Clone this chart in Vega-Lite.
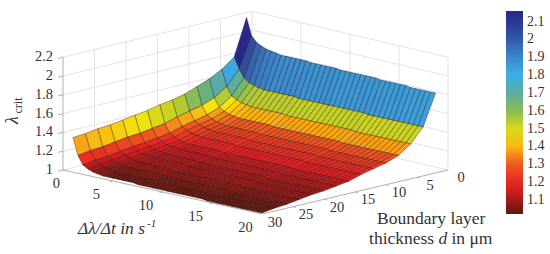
{"$schema":"https://vega.github.io/schema/vega-lite/v6.json","width":550,"height":254,"padding":0,"autosize":{"type":"none"},"background":"white","config":{"view":{"stroke":null}},
"datasets":{
"surface":[
{"r":1,"d":2,"z":2.21},{"r":1,"d":4,"z":1.82},{"r":1,"d":6,"z":1.72},{"r":1,"d":8,"z":1.65},{"r":1,"d":10,"z":1.6},{"r":1,"d":12,"z":1.55},{"r":1,"d":14,"z":1.52},{"r":1,"d":16,"z":1.5},{"r":1,"d":18,"z":1.47},{"r":1,"d":20,"z":1.45},{"r":1,"d":22,"z":1.43},{"r":1,"d":24,"z":1.41},{"r":1,"d":26,"z":1.4},{"r":1,"d":28,"z":1.38},{"r":1,"d":30,"z":1.37},
{"r":1.5,"d":2,"z":2.03},{"r":1.5,"d":4,"z":1.7},{"r":1.5,"d":6,"z":1.55},{"r":1.5,"d":8,"z":1.46},{"r":1.5,"d":10,"z":1.41},{"r":1.5,"d":12,"z":1.38},{"r":1.5,"d":14,"z":1.35},{"r":1.5,"d":16,"z":1.31},{"r":1.5,"d":18,"z":1.29},{"r":1.5,"d":20,"z":1.27},{"r":1.5,"d":22,"z":1.26},{"r":1.5,"d":24,"z":1.24},{"r":1.5,"d":26,"z":1.22},{"r":1.5,"d":28,"z":1.21},{"r":1.5,"d":30,"z":1.19},
{"r":2,"d":2,"z":1.97},{"r":2,"d":4,"z":1.62},{"r":2,"d":6,"z":1.46},{"r":2,"d":8,"z":1.37},{"r":2,"d":10,"z":1.32},{"r":2,"d":12,"z":1.29},{"r":2,"d":14,"z":1.26},{"r":2,"d":16,"z":1.22},{"r":2,"d":18,"z":1.2},{"r":2,"d":20,"z":1.18},{"r":2,"d":22,"z":1.17},{"r":2,"d":24,"z":1.15},{"r":2,"d":26,"z":1.13},{"r":2,"d":28,"z":1.12},{"r":2,"d":30,"z":1.1},
{"r":2.5,"d":2,"z":1.94},{"r":2.5,"d":4,"z":1.58},{"r":2.5,"d":6,"z":1.43},{"r":2.5,"d":8,"z":1.34},{"r":2.5,"d":10,"z":1.29},{"r":2.5,"d":12,"z":1.26},{"r":2.5,"d":14,"z":1.23},{"r":2.5,"d":16,"z":1.19},{"r":2.5,"d":18,"z":1.17},{"r":2.5,"d":20,"z":1.15},{"r":2.5,"d":22,"z":1.14},{"r":2.5,"d":24,"z":1.12},{"r":2.5,"d":26,"z":1.1},{"r":2.5,"d":28,"z":1.09},{"r":2.5,"d":30,"z":1.07},
{"r":3,"d":2,"z":1.92},{"r":3,"d":4,"z":1.56},{"r":3,"d":6,"z":1.41},{"r":3,"d":8,"z":1.32},{"r":3,"d":10,"z":1.27},{"r":3,"d":12,"z":1.24},{"r":3,"d":14,"z":1.21},{"r":3,"d":16,"z":1.17},{"r":3,"d":18,"z":1.15},{"r":3,"d":20,"z":1.13},{"r":3,"d":22,"z":1.12},{"r":3,"d":24,"z":1.1},{"r":3,"d":26,"z":1.08},{"r":3,"d":28,"z":1.07},{"r":3,"d":30,"z":1.05},
{"r":3.5,"d":2,"z":1.91},{"r":3.5,"d":4,"z":1.55},{"r":3.5,"d":6,"z":1.4},{"r":3.5,"d":8,"z":1.31},{"r":3.5,"d":10,"z":1.26},{"r":3.5,"d":12,"z":1.23},{"r":3.5,"d":14,"z":1.2},{"r":3.5,"d":16,"z":1.16},{"r":3.5,"d":18,"z":1.14},{"r":3.5,"d":20,"z":1.12},{"r":3.5,"d":22,"z":1.11},{"r":3.5,"d":24,"z":1.09},{"r":3.5,"d":26,"z":1.07},{"r":3.5,"d":28,"z":1.06},{"r":3.5,"d":30,"z":1.04},
{"r":4,"d":2,"z":1.9},{"r":4,"d":4,"z":1.54},{"r":4,"d":6,"z":1.39},{"r":4,"d":8,"z":1.3},{"r":4,"d":10,"z":1.25},{"r":4,"d":12,"z":1.22},{"r":4,"d":14,"z":1.19},{"r":4,"d":16,"z":1.15},{"r":4,"d":18,"z":1.13},{"r":4,"d":20,"z":1.11},{"r":4,"d":22,"z":1.1},{"r":4,"d":24,"z":1.08},{"r":4,"d":26,"z":1.06},{"r":4,"d":28,"z":1.05},{"r":4,"d":30,"z":1.03},
{"r":4.5,"d":2,"z":1.89},{"r":4.5,"d":4,"z":1.54},{"r":4.5,"d":6,"z":1.39},{"r":4.5,"d":8,"z":1.3},{"r":4.5,"d":10,"z":1.25},{"r":4.5,"d":12,"z":1.22},{"r":4.5,"d":14,"z":1.19},{"r":4.5,"d":16,"z":1.15},{"r":4.5,"d":18,"z":1.13},{"r":4.5,"d":20,"z":1.11},{"r":4.5,"d":22,"z":1.1},{"r":4.5,"d":24,"z":1.08},{"r":4.5,"d":26,"z":1.06},{"r":4.5,"d":28,"z":1.04},{"r":4.5,"d":30,"z":1.03},
{"r":5,"d":2,"z":1.89},{"r":5,"d":4,"z":1.54},{"r":5,"d":6,"z":1.39},{"r":5,"d":8,"z":1.3},{"r":5,"d":10,"z":1.25},{"r":5,"d":12,"z":1.22},{"r":5,"d":14,"z":1.19},{"r":5,"d":16,"z":1.15},{"r":5,"d":18,"z":1.13},{"r":5,"d":20,"z":1.11},{"r":5,"d":22,"z":1.1},{"r":5,"d":24,"z":1.08},{"r":5,"d":26,"z":1.06},{"r":5,"d":28,"z":1.04},{"r":5,"d":30,"z":1.03},
{"r":5.5,"d":2,"z":1.89},{"r":5.5,"d":4,"z":1.54},{"r":5.5,"d":6,"z":1.39},{"r":5.5,"d":8,"z":1.3},{"r":5.5,"d":10,"z":1.25},{"r":5.5,"d":12,"z":1.22},{"r":5.5,"d":14,"z":1.19},{"r":5.5,"d":16,"z":1.15},{"r":5.5,"d":18,"z":1.13},{"r":5.5,"d":20,"z":1.11},{"r":5.5,"d":22,"z":1.1},{"r":5.5,"d":24,"z":1.08},{"r":5.5,"d":26,"z":1.06},{"r":5.5,"d":28,"z":1.04},{"r":5.5,"d":30,"z":1.03},
{"r":6,"d":2,"z":1.89},{"r":6,"d":4,"z":1.54},{"r":6,"d":6,"z":1.39},{"r":6,"d":8,"z":1.3},{"r":6,"d":10,"z":1.25},{"r":6,"d":12,"z":1.22},{"r":6,"d":14,"z":1.19},{"r":6,"d":16,"z":1.15},{"r":6,"d":18,"z":1.13},{"r":6,"d":20,"z":1.11},{"r":6,"d":22,"z":1.1},{"r":6,"d":24,"z":1.08},{"r":6,"d":26,"z":1.06},{"r":6,"d":28,"z":1.04},{"r":6,"d":30,"z":1.03},
{"r":6.5,"d":2,"z":1.89},{"r":6.5,"d":4,"z":1.54},{"r":6.5,"d":6,"z":1.39},{"r":6.5,"d":8,"z":1.3},{"r":6.5,"d":10,"z":1.25},{"r":6.5,"d":12,"z":1.22},{"r":6.5,"d":14,"z":1.19},{"r":6.5,"d":16,"z":1.15},{"r":6.5,"d":18,"z":1.13},{"r":6.5,"d":20,"z":1.11},{"r":6.5,"d":22,"z":1.1},{"r":6.5,"d":24,"z":1.08},{"r":6.5,"d":26,"z":1.06},{"r":6.5,"d":28,"z":1.04},{"r":6.5,"d":30,"z":1.03},
{"r":7,"d":2,"z":1.89},{"r":7,"d":4,"z":1.54},{"r":7,"d":6,"z":1.39},{"r":7,"d":8,"z":1.3},{"r":7,"d":10,"z":1.25},{"r":7,"d":12,"z":1.22},{"r":7,"d":14,"z":1.19},{"r":7,"d":16,"z":1.15},{"r":7,"d":18,"z":1.13},{"r":7,"d":20,"z":1.11},{"r":7,"d":22,"z":1.1},{"r":7,"d":24,"z":1.08},{"r":7,"d":26,"z":1.06},{"r":7,"d":28,"z":1.04},{"r":7,"d":30,"z":1.03},
{"r":7.5,"d":2,"z":1.88},{"r":7.5,"d":4,"z":1.53},{"r":7.5,"d":6,"z":1.38},{"r":7.5,"d":8,"z":1.29},{"r":7.5,"d":10,"z":1.24},{"r":7.5,"d":12,"z":1.21},{"r":7.5,"d":14,"z":1.18},{"r":7.5,"d":16,"z":1.14},{"r":7.5,"d":18,"z":1.12},{"r":7.5,"d":20,"z":1.1},{"r":7.5,"d":22,"z":1.09},{"r":7.5,"d":24,"z":1.07},{"r":7.5,"d":26,"z":1.05},{"r":7.5,"d":28,"z":1.04},{"r":7.5,"d":30,"z":1.02},
{"r":8,"d":2,"z":1.88},{"r":8,"d":4,"z":1.53},{"r":8,"d":6,"z":1.38},{"r":8,"d":8,"z":1.29},{"r":8,"d":10,"z":1.24},{"r":8,"d":12,"z":1.21},{"r":8,"d":14,"z":1.18},{"r":8,"d":16,"z":1.14},{"r":8,"d":18,"z":1.12},{"r":8,"d":20,"z":1.1},{"r":8,"d":22,"z":1.09},{"r":8,"d":24,"z":1.07},{"r":8,"d":26,"z":1.05},{"r":8,"d":28,"z":1.04},{"r":8,"d":30,"z":1.02},
{"r":8.5,"d":2,"z":1.88},{"r":8.5,"d":4,"z":1.53},{"r":8.5,"d":6,"z":1.38},{"r":8.5,"d":8,"z":1.29},{"r":8.5,"d":10,"z":1.24},{"r":8.5,"d":12,"z":1.21},{"r":8.5,"d":14,"z":1.18},{"r":8.5,"d":16,"z":1.14},{"r":8.5,"d":18,"z":1.12},{"r":8.5,"d":20,"z":1.1},{"r":8.5,"d":22,"z":1.09},{"r":8.5,"d":24,"z":1.07},{"r":8.5,"d":26,"z":1.05},{"r":8.5,"d":28,"z":1.04},{"r":8.5,"d":30,"z":1.02},
{"r":9,"d":2,"z":1.88},{"r":9,"d":4,"z":1.53},{"r":9,"d":6,"z":1.38},{"r":9,"d":8,"z":1.29},{"r":9,"d":10,"z":1.24},{"r":9,"d":12,"z":1.21},{"r":9,"d":14,"z":1.18},{"r":9,"d":16,"z":1.14},{"r":9,"d":18,"z":1.12},{"r":9,"d":20,"z":1.1},{"r":9,"d":22,"z":1.09},{"r":9,"d":24,"z":1.07},{"r":9,"d":26,"z":1.05},{"r":9,"d":28,"z":1.04},{"r":9,"d":30,"z":1.02},
{"r":9.5,"d":2,"z":1.88},{"r":9.5,"d":4,"z":1.53},{"r":9.5,"d":6,"z":1.38},{"r":9.5,"d":8,"z":1.29},{"r":9.5,"d":10,"z":1.24},{"r":9.5,"d":12,"z":1.21},{"r":9.5,"d":14,"z":1.18},{"r":9.5,"d":16,"z":1.14},{"r":9.5,"d":18,"z":1.12},{"r":9.5,"d":20,"z":1.1},{"r":9.5,"d":22,"z":1.09},{"r":9.5,"d":24,"z":1.07},{"r":9.5,"d":26,"z":1.05},{"r":9.5,"d":28,"z":1.04},{"r":9.5,"d":30,"z":1.02},
{"r":10,"d":2,"z":1.88},{"r":10,"d":4,"z":1.53},{"r":10,"d":6,"z":1.38},{"r":10,"d":8,"z":1.29},{"r":10,"d":10,"z":1.24},{"r":10,"d":12,"z":1.21},{"r":10,"d":14,"z":1.18},{"r":10,"d":16,"z":1.14},{"r":10,"d":18,"z":1.12},{"r":10,"d":20,"z":1.1},{"r":10,"d":22,"z":1.09},{"r":10,"d":24,"z":1.07},{"r":10,"d":26,"z":1.05},{"r":10,"d":28,"z":1.04},{"r":10,"d":30,"z":1.02},
{"r":10.5,"d":2,"z":1.87},{"r":10.5,"d":4,"z":1.53},{"r":10.5,"d":6,"z":1.38},{"r":10.5,"d":8,"z":1.29},{"r":10.5,"d":10,"z":1.24},{"r":10.5,"d":12,"z":1.21},{"r":10.5,"d":14,"z":1.18},{"r":10.5,"d":16,"z":1.14},{"r":10.5,"d":18,"z":1.12},{"r":10.5,"d":20,"z":1.1},{"r":10.5,"d":22,"z":1.09},{"r":10.5,"d":24,"z":1.07},{"r":10.5,"d":26,"z":1.05},{"r":10.5,"d":28,"z":1.03},{"r":10.5,"d":30,"z":1.02},
{"r":11,"d":2,"z":1.87},{"r":11,"d":4,"z":1.53},{"r":11,"d":6,"z":1.38},{"r":11,"d":8,"z":1.29},{"r":11,"d":10,"z":1.24},{"r":11,"d":12,"z":1.21},{"r":11,"d":14,"z":1.18},{"r":11,"d":16,"z":1.14},{"r":11,"d":18,"z":1.12},{"r":11,"d":20,"z":1.1},{"r":11,"d":22,"z":1.09},{"r":11,"d":24,"z":1.07},{"r":11,"d":26,"z":1.05},{"r":11,"d":28,"z":1.03},{"r":11,"d":30,"z":1.02},
{"r":11.5,"d":2,"z":1.87},{"r":11.5,"d":4,"z":1.53},{"r":11.5,"d":6,"z":1.38},{"r":11.5,"d":8,"z":1.29},{"r":11.5,"d":10,"z":1.24},{"r":11.5,"d":12,"z":1.21},{"r":11.5,"d":14,"z":1.18},{"r":11.5,"d":16,"z":1.14},{"r":11.5,"d":18,"z":1.12},{"r":11.5,"d":20,"z":1.1},{"r":11.5,"d":22,"z":1.09},{"r":11.5,"d":24,"z":1.07},{"r":11.5,"d":26,"z":1.05},{"r":11.5,"d":28,"z":1.03},{"r":11.5,"d":30,"z":1.02},
{"r":12,"d":2,"z":1.87},{"r":12,"d":4,"z":1.53},{"r":12,"d":6,"z":1.38},{"r":12,"d":8,"z":1.29},{"r":12,"d":10,"z":1.24},{"r":12,"d":12,"z":1.21},{"r":12,"d":14,"z":1.18},{"r":12,"d":16,"z":1.14},{"r":12,"d":18,"z":1.12},{"r":12,"d":20,"z":1.1},{"r":12,"d":22,"z":1.09},{"r":12,"d":24,"z":1.07},{"r":12,"d":26,"z":1.05},{"r":12,"d":28,"z":1.03},{"r":12,"d":30,"z":1.02},
{"r":12.5,"d":2,"z":1.87},{"r":12.5,"d":4,"z":1.53},{"r":12.5,"d":6,"z":1.38},{"r":12.5,"d":8,"z":1.29},{"r":12.5,"d":10,"z":1.24},{"r":12.5,"d":12,"z":1.21},{"r":12.5,"d":14,"z":1.18},{"r":12.5,"d":16,"z":1.14},{"r":12.5,"d":18,"z":1.12},{"r":12.5,"d":20,"z":1.1},{"r":12.5,"d":22,"z":1.09},{"r":12.5,"d":24,"z":1.07},{"r":12.5,"d":26,"z":1.05},{"r":12.5,"d":28,"z":1.03},{"r":12.5,"d":30,"z":1.02},
{"r":13,"d":2,"z":1.87},{"r":13,"d":4,"z":1.53},{"r":13,"d":6,"z":1.38},{"r":13,"d":8,"z":1.29},{"r":13,"d":10,"z":1.24},{"r":13,"d":12,"z":1.21},{"r":13,"d":14,"z":1.18},{"r":13,"d":16,"z":1.14},{"r":13,"d":18,"z":1.12},{"r":13,"d":20,"z":1.1},{"r":13,"d":22,"z":1.09},{"r":13,"d":24,"z":1.07},{"r":13,"d":26,"z":1.05},{"r":13,"d":28,"z":1.03},{"r":13,"d":30,"z":1.02},
{"r":13.5,"d":2,"z":1.87},{"r":13.5,"d":4,"z":1.53},{"r":13.5,"d":6,"z":1.38},{"r":13.5,"d":8,"z":1.29},{"r":13.5,"d":10,"z":1.24},{"r":13.5,"d":12,"z":1.21},{"r":13.5,"d":14,"z":1.18},{"r":13.5,"d":16,"z":1.14},{"r":13.5,"d":18,"z":1.12},{"r":13.5,"d":20,"z":1.1},{"r":13.5,"d":22,"z":1.09},{"r":13.5,"d":24,"z":1.07},{"r":13.5,"d":26,"z":1.05},{"r":13.5,"d":28,"z":1.03},{"r":13.5,"d":30,"z":1.02},
{"r":14,"d":2,"z":1.87},{"r":14,"d":4,"z":1.53},{"r":14,"d":6,"z":1.38},{"r":14,"d":8,"z":1.29},{"r":14,"d":10,"z":1.24},{"r":14,"d":12,"z":1.21},{"r":14,"d":14,"z":1.18},{"r":14,"d":16,"z":1.14},{"r":14,"d":18,"z":1.12},{"r":14,"d":20,"z":1.1},{"r":14,"d":22,"z":1.09},{"r":14,"d":24,"z":1.07},{"r":14,"d":26,"z":1.05},{"r":14,"d":28,"z":1.03},{"r":14,"d":30,"z":1.02},
{"r":14.5,"d":2,"z":1.86},{"r":14.5,"d":4,"z":1.52},{"r":14.5,"d":6,"z":1.37},{"r":14.5,"d":8,"z":1.28},{"r":14.5,"d":10,"z":1.23},{"r":14.5,"d":12,"z":1.2},{"r":14.5,"d":14,"z":1.17},{"r":14.5,"d":16,"z":1.13},{"r":14.5,"d":18,"z":1.11},{"r":14.5,"d":20,"z":1.09},{"r":14.5,"d":22,"z":1.08},{"r":14.5,"d":24,"z":1.06},{"r":14.5,"d":26,"z":1.04},{"r":14.5,"d":28,"z":1.03},{"r":14.5,"d":30,"z":1.01},
{"r":15,"d":2,"z":1.86},{"r":15,"d":4,"z":1.52},{"r":15,"d":6,"z":1.37},{"r":15,"d":8,"z":1.28},{"r":15,"d":10,"z":1.23},{"r":15,"d":12,"z":1.2},{"r":15,"d":14,"z":1.17},{"r":15,"d":16,"z":1.13},{"r":15,"d":18,"z":1.11},{"r":15,"d":20,"z":1.09},{"r":15,"d":22,"z":1.08},{"r":15,"d":24,"z":1.06},{"r":15,"d":26,"z":1.04},{"r":15,"d":28,"z":1.03},{"r":15,"d":30,"z":1.01},
{"r":15.5,"d":2,"z":1.86},{"r":15.5,"d":4,"z":1.52},{"r":15.5,"d":6,"z":1.37},{"r":15.5,"d":8,"z":1.28},{"r":15.5,"d":10,"z":1.23},{"r":15.5,"d":12,"z":1.2},{"r":15.5,"d":14,"z":1.17},{"r":15.5,"d":16,"z":1.13},{"r":15.5,"d":18,"z":1.11},{"r":15.5,"d":20,"z":1.09},{"r":15.5,"d":22,"z":1.08},{"r":15.5,"d":24,"z":1.06},{"r":15.5,"d":26,"z":1.04},{"r":15.5,"d":28,"z":1.03},{"r":15.5,"d":30,"z":1.01},
{"r":16,"d":2,"z":1.86},{"r":16,"d":4,"z":1.52},{"r":16,"d":6,"z":1.37},{"r":16,"d":8,"z":1.28},{"r":16,"d":10,"z":1.23},{"r":16,"d":12,"z":1.2},{"r":16,"d":14,"z":1.17},{"r":16,"d":16,"z":1.13},{"r":16,"d":18,"z":1.11},{"r":16,"d":20,"z":1.09},{"r":16,"d":22,"z":1.08},{"r":16,"d":24,"z":1.06},{"r":16,"d":26,"z":1.04},{"r":16,"d":28,"z":1.03},{"r":16,"d":30,"z":1.01},
{"r":16.5,"d":2,"z":1.86},{"r":16.5,"d":4,"z":1.52},{"r":16.5,"d":6,"z":1.37},{"r":16.5,"d":8,"z":1.28},{"r":16.5,"d":10,"z":1.23},{"r":16.5,"d":12,"z":1.2},{"r":16.5,"d":14,"z":1.17},{"r":16.5,"d":16,"z":1.13},{"r":16.5,"d":18,"z":1.11},{"r":16.5,"d":20,"z":1.09},{"r":16.5,"d":22,"z":1.08},{"r":16.5,"d":24,"z":1.06},{"r":16.5,"d":26,"z":1.04},{"r":16.5,"d":28,"z":1.03},{"r":16.5,"d":30,"z":1.01},
{"r":17,"d":2,"z":1.86},{"r":17,"d":4,"z":1.52},{"r":17,"d":6,"z":1.37},{"r":17,"d":8,"z":1.28},{"r":17,"d":10,"z":1.23},{"r":17,"d":12,"z":1.2},{"r":17,"d":14,"z":1.17},{"r":17,"d":16,"z":1.13},{"r":17,"d":18,"z":1.11},{"r":17,"d":20,"z":1.09},{"r":17,"d":22,"z":1.08},{"r":17,"d":24,"z":1.06},{"r":17,"d":26,"z":1.04},{"r":17,"d":28,"z":1.03},{"r":17,"d":30,"z":1.01},
{"r":17.5,"d":2,"z":1.85},{"r":17.5,"d":4,"z":1.52},{"r":17.5,"d":6,"z":1.37},{"r":17.5,"d":8,"z":1.28},{"r":17.5,"d":10,"z":1.23},{"r":17.5,"d":12,"z":1.2},{"r":17.5,"d":14,"z":1.17},{"r":17.5,"d":16,"z":1.13},{"r":17.5,"d":18,"z":1.11},{"r":17.5,"d":20,"z":1.09},{"r":17.5,"d":22,"z":1.08},{"r":17.5,"d":24,"z":1.06},{"r":17.5,"d":26,"z":1.04},{"r":17.5,"d":28,"z":1.03},{"r":17.5,"d":30,"z":1.01},
{"r":18,"d":2,"z":1.85},{"r":18,"d":4,"z":1.52},{"r":18,"d":6,"z":1.37},{"r":18,"d":8,"z":1.28},{"r":18,"d":10,"z":1.23},{"r":18,"d":12,"z":1.2},{"r":18,"d":14,"z":1.17},{"r":18,"d":16,"z":1.13},{"r":18,"d":18,"z":1.11},{"r":18,"d":20,"z":1.09},{"r":18,"d":22,"z":1.08},{"r":18,"d":24,"z":1.06},{"r":18,"d":26,"z":1.04},{"r":18,"d":28,"z":1.03},{"r":18,"d":30,"z":1.01},
{"r":18.5,"d":2,"z":1.85},{"r":18.5,"d":4,"z":1.52},{"r":18.5,"d":6,"z":1.37},{"r":18.5,"d":8,"z":1.28},{"r":18.5,"d":10,"z":1.23},{"r":18.5,"d":12,"z":1.2},{"r":18.5,"d":14,"z":1.17},{"r":18.5,"d":16,"z":1.13},{"r":18.5,"d":18,"z":1.11},{"r":18.5,"d":20,"z":1.09},{"r":18.5,"d":22,"z":1.08},{"r":18.5,"d":24,"z":1.06},{"r":18.5,"d":26,"z":1.04},{"r":18.5,"d":28,"z":1.03},{"r":18.5,"d":30,"z":1.01},
{"r":19,"d":2,"z":1.85},{"r":19,"d":4,"z":1.52},{"r":19,"d":6,"z":1.37},{"r":19,"d":8,"z":1.28},{"r":19,"d":10,"z":1.23},{"r":19,"d":12,"z":1.2},{"r":19,"d":14,"z":1.17},{"r":19,"d":16,"z":1.13},{"r":19,"d":18,"z":1.11},{"r":19,"d":20,"z":1.09},{"r":19,"d":22,"z":1.08},{"r":19,"d":24,"z":1.06},{"r":19,"d":26,"z":1.04},{"r":19,"d":28,"z":1.03},{"r":19,"d":30,"z":1.01},
{"r":19.5,"d":2,"z":1.85},{"r":19.5,"d":4,"z":1.52},{"r":19.5,"d":6,"z":1.37},{"r":19.5,"d":8,"z":1.28},{"r":19.5,"d":10,"z":1.23},{"r":19.5,"d":12,"z":1.2},{"r":19.5,"d":14,"z":1.17},{"r":19.5,"d":16,"z":1.13},{"r":19.5,"d":18,"z":1.11},{"r":19.5,"d":20,"z":1.09},{"r":19.5,"d":22,"z":1.08},{"r":19.5,"d":24,"z":1.06},{"r":19.5,"d":26,"z":1.04},{"r":19.5,"d":28,"z":1.03},{"r":19.5,"d":30,"z":1.01},
{"r":20,"d":2,"z":1.85},{"r":20,"d":4,"z":1.52},{"r":20,"d":6,"z":1.37},{"r":20,"d":8,"z":1.28},{"r":20,"d":10,"z":1.23},{"r":20,"d":12,"z":1.2},{"r":20,"d":14,"z":1.17},{"r":20,"d":16,"z":1.13},{"r":20,"d":18,"z":1.11},{"r":20,"d":20,"z":1.09},{"r":20,"d":22,"z":1.08},{"r":20,"d":24,"z":1.06},{"r":20,"d":26,"z":1.04},{"r":20,"d":28,"z":1.03},{"r":20,"d":30,"z":1.01}
],
"grid":[
{"g":"a1","r":0,"d":30,"z":1},{"g":"a1","r":0,"d":0,"z":1},{"g":"a2","r":0,"d":30,"z":1.2},{"g":"a2","r":0,"d":0,"z":1.2},{"g":"a3","r":0,"d":30,"z":1.4},{"g":"a3","r":0,"d":0,"z":1.4},{"g":"a4","r":0,"d":30,"z":1.6},{"g":"a4","r":0,"d":0,"z":1.6},{"g":"a5","r":0,"d":30,"z":1.8},{"g":"a5","r":0,"d":0,"z":1.8},{"g":"a6","r":0,"d":30,"z":2},{"g":"a6","r":0,"d":0,"z":2},{"g":"a7","r":0,"d":30,"z":2.2},{"g":"a7","r":0,"d":0,"z":2.2},
{"g":"b1","r":0,"d":0,"z":1},{"g":"b1","r":20,"d":0,"z":1},{"g":"b2","r":0,"d":0,"z":1.2},{"g":"b2","r":20,"d":0,"z":1.2},{"g":"b3","r":0,"d":0,"z":1.4},{"g":"b3","r":20,"d":0,"z":1.4},{"g":"b4","r":0,"d":0,"z":1.6},{"g":"b4","r":20,"d":0,"z":1.6},{"g":"b5","r":0,"d":0,"z":1.8},{"g":"b5","r":20,"d":0,"z":1.8},{"g":"b6","r":0,"d":0,"z":2},{"g":"b6","r":20,"d":0,"z":2},{"g":"b7","r":0,"d":0,"z":2.2},{"g":"b7","r":20,"d":0,"z":2.2},
{"g":"c1","r":0,"d":25,"z":1},{"g":"c1","r":0,"d":25,"z":2.2},{"g":"c2","r":0,"d":20,"z":1},{"g":"c2","r":0,"d":20,"z":2.2},{"g":"c3","r":0,"d":15,"z":1},{"g":"c3","r":0,"d":15,"z":2.2},{"g":"c4","r":0,"d":10,"z":1},{"g":"c4","r":0,"d":10,"z":2.2},{"g":"c5","r":0,"d":5,"z":1},{"g":"c5","r":0,"d":5,"z":2.2},{"g":"c6","r":0,"d":0,"z":1},{"g":"c6","r":0,"d":0,"z":2.2},
{"g":"e1","r":5,"d":0,"z":1},{"g":"e1","r":5,"d":0,"z":2.2},{"g":"e2","r":10,"d":0,"z":1},{"g":"e2","r":10,"d":0,"z":2.2},{"g":"e3","r":15,"d":0,"z":1},{"g":"e3","r":15,"d":0,"z":2.2},{"g":"e4","r":20,"d":0,"z":1},{"g":"e4","r":20,"d":0,"z":2.2}
],
"axes":[
{"g":"f1","r":0,"d":30,"z":1},{"g":"f1","r":20,"d":30,"z":1},{"g":"f2","r":20,"d":30,"z":1},{"g":"f2","r":20,"d":0,"z":1},{"g":"f3","r":0,"d":30,"z":1},{"g":"f3","r":0,"d":30,"z":2.2},
{"g":"t1","r":0,"d":30,"z":1},{"g":"t1","r":0,"d":30.8,"z":1},{"g":"t2","r":0,"d":30,"z":1.2},{"g":"t2","r":0,"d":30.8,"z":1.2},{"g":"t3","r":0,"d":30,"z":1.4},{"g":"t3","r":0,"d":30.8,"z":1.4},{"g":"t4","r":0,"d":30,"z":1.6},{"g":"t4","r":0,"d":30.8,"z":1.6},{"g":"t5","r":0,"d":30,"z":1.8},{"g":"t5","r":0,"d":30.8,"z":1.8},{"g":"t6","r":0,"d":30,"z":2},{"g":"t6","r":0,"d":30.8,"z":2},{"g":"t7","r":0,"d":30,"z":2.2},{"g":"t7","r":0,"d":30.8,"z":2.2},
{"g":"u1","r":5,"d":30,"z":1},{"g":"u1","r":5,"d":30.5,"z":1},{"g":"u2","r":10,"d":30,"z":1},{"g":"u2","r":10,"d":30.5,"z":1},{"g":"u3","r":15,"d":30,"z":1},{"g":"u3","r":15,"d":30.5,"z":1},
{"g":"v1","r":20,"d":25,"z":1},{"g":"v1","r":20.3,"d":25,"z":1},{"g":"v2","r":20,"d":20,"z":1},{"g":"v2","r":20.3,"d":20,"z":1},{"g":"v3","r":20,"d":15,"z":1},{"g":"v3","r":20.3,"d":15,"z":1},{"g":"v4","r":20,"d":10,"z":1},{"g":"v4","r":20.3,"d":10,"z":1},{"g":"v5","r":20,"d":5,"z":1},{"g":"v5","r":20.3,"d":5,"z":1}
],
"labels":[
{"a":"z","t":"1","r":0,"d":30,"z":1},{"a":"z","t":"1.2","r":0,"d":30,"z":1.2},{"a":"z","t":"1.4","r":0,"d":30,"z":1.4},{"a":"z","t":"1.6","r":0,"d":30,"z":1.6},{"a":"z","t":"1.8","r":0,"d":30,"z":1.8},{"a":"z","t":"2","r":0,"d":30,"z":2},{"a":"z","t":"2.2","r":0,"d":30,"z":2.2},
{"a":"r","t":"0","r":1,"d":30,"z":1.02},{"a":"r","t":"5","r":5,"d":30,"z":1},{"a":"r","t":"10","r":10,"d":30,"z":1},{"a":"r","t":"15","r":15,"d":30,"z":1},{"a":"r","t":"20","r":20,"d":30,"z":1},
{"a":"d","t":"30","r":20,"d":30,"z":1},{"a":"d","t":"25","r":20,"d":25,"z":1},{"a":"d","t":"20","r":20,"d":20,"z":1},{"a":"d","t":"15","r":20,"d":15,"z":1},{"a":"d","t":"10","r":20,"d":10,"z":1},{"a":"d","t":"5","r":20,"d":5,"z":1},{"a":"d","t":"0","r":20,"d":0,"z":1}
],
"titles":[
{"a":"rate","t":"Δλ/Δt in s","r":13.73,"d":49.62,"z":1},
{"a":"sup","t":"-1","r":16.22,"d":42.48,"z":1},
{"a":"lam","t":"λ","r":-13.57,"d":16.28,"z":1},
{"a":"crit","t":"crit","r":-16.5,"d":10.78,"z":1},
{"a":"thick","t":"Boundary layer","r":27.07,"d":22.8,"z":1},
{"a":"thick","t":"thickness","r":31.05,"d":30.47,"z":1},
{"a":"ital","t":"d","r":34.66,"d":25.06,"z":1},
{"a":"thick","t":"in μm","r":35.33,"d":24.05,"z":1}
]
},
"layer":[
{"data":{"name":"grid"},"transform":[{"calculate":"63+9.95*datum.r+6.2*(30-datum.d)+0.005*(30-datum.d)*(20-datum.r)","as":"sx"},{"calculate":"170+2.2*datum.r-1.467*(30-datum.d)-94*(datum.z-1)-0.0033*(30-datum.d)*(20-datum.r)","as":"sy"}],
"mark":{"type":"line","stroke":"#e3e3e3","strokeWidth":1,"clip":false},
"encoding":{"x":{"field":"sx","type":"quantitative","scale":{"domain":[0,550],"nice":false,"zero":false},"axis":null},"y":{"field":"sy","type":"quantitative","scale":{"domain":[254,0],"nice":false,"zero":false},"axis":null},"detail":{"field":"g"}}},
{"data":{"name":"axes"},"transform":[{"calculate":"63+9.95*datum.r+6.2*(30-datum.d)","as":"sx"},{"calculate":"170+2.2*datum.r-1.467*(30-datum.d)-94*(datum.z-1)","as":"sy"}],
"mark":{"type":"line","stroke":"#b0b0b0","strokeWidth":1},
"encoding":{"x":{"field":"sx","type":"quantitative","axis":null},"y":{"field":"sy","type":"quantitative","axis":null},"detail":{"field":"g"}}},
{"data":{"name":"surface"},"transform":[
{"window":[{"op":"lead","field":"z","as":"zd"}],"sort":[{"field":"d","order":"ascending"}],"groupby":["r"]},
{"window":[{"op":"lead","field":"z","as":"zr"},{"op":"lead","field":"zd","as":"zrd"}],"sort":[{"field":"r","order":"ascending"}],"groupby":["d"]},
{"filter":"datum.r<20 && datum.d<30"},
{"calculate":"[datum.r,datum.r+0.5,datum.r+0.5,datum.r,datum.r]","as":"cr"},
{"calculate":"[datum.d,datum.d,datum.d+2,datum.d+2,datum.d]","as":"cd"},
{"calculate":"[datum.z,datum.zr,datum.zrd,datum.zd,datum.z]","as":"cz"},
{"calculate":"[0,1,2,3,4]","as":"ci"},
{"calculate":"datum.r+'_'+datum.d","as":"cell"},
{"flatten":["cr","cd","cz","ci"]},
{"calculate":"63+9.95*datum.cr+6.2*(30-datum.cd)","as":"sx"},
{"calculate":"170+2.2*datum.cr-1.467*(30-datum.cd)-94*(datum.cz-1)","as":"sy"}],
"mark":{"type":"line","stroke":"#1a0a0a","strokeWidth":0.5,"strokeOpacity":0.7,"strokeJoin":"round"},
"encoding":{"x":{"field":"sx","type":"quantitative","axis":null},"y":{"field":"sy","type":"quantitative","axis":null},"detail":{"field":"cell"},"order":{"field":"ci","type":"quantitative"},
"fill":{"field":"z","type":"quantitative","scale":{"domain":[1.02,1.1,1.18,1.3,1.39,1.46,1.53,1.63,1.72,1.8,1.87,1.95,2.05,2.16],"range":["#5a190f","#aa1919","#e61e23","#f05a1e","#fab014","#f5e60a","#c4d024","#6eb46e","#5aaaaa","#3cafe6","#3a98d6","#3a6cb8","#2d4696","#28288c"],"interpolate":"rgb","clamp":true},
"legend":{"orient":"none","legendX":506,"legendY":11,"gradientLength":203,"gradientThickness":17,"title":null,"direction":"vertical","values":[1.1,1.2,1.3,1.4,1.5,1.6,1.7,1.8,1.9,2,2.1],"format":".1~f","labelFont":"Liberation Serif","labelFontSize":14,"labelColor":"#333","labelOverlap":false,"labelOffset":4,"gradientStrokeWidth":0}}}},
{"data":{"name":"labels"},"transform":[{"filter":"datum.a=='z'"},{"calculate":"63+9.95*datum.r+6.2*(30-datum.d)","as":"sx"},{"calculate":"170+2.2*datum.r-1.467*(30-datum.d)-94*(datum.z-1)","as":"sy"}],
"mark":{"type":"text","align":"right","baseline":"middle","dx":-10,"font":"Liberation Serif","fontSize":14.5,"color":"#333"},
"encoding":{"x":{"field":"sx","type":"quantitative","axis":null},"y":{"field":"sy","type":"quantitative","axis":null},"text":{"field":"t"}}},
{"data":{"name":"labels"},"transform":[{"filter":"datum.a=='r'"},{"calculate":"63+9.95*datum.r+6.2*(30-datum.d)","as":"sx"},{"calculate":"170+2.2*datum.r-1.467*(30-datum.d)-94*(datum.z-1)","as":"sy"}],
"mark":{"type":"text","align":"center","baseline":"middle","dx":-16.5,"dy":14,"font":"Liberation Serif","fontSize":14.5,"color":"#333"},
"encoding":{"x":{"field":"sx","type":"quantitative","axis":null},"y":{"field":"sy","type":"quantitative","axis":null},"text":{"field":"t"}}},
{"data":{"name":"labels"},"transform":[{"filter":"datum.a=='d'"},{"calculate":"63+9.95*datum.r+6.2*(30-datum.d)","as":"sx"},{"calculate":"170+2.2*datum.r-1.467*(30-datum.d)-94*(datum.z-1)","as":"sy"}],
"mark":{"type":"text","align":"center","baseline":"middle","dx":13,"dy":8.5,"font":"Liberation Serif","fontSize":14.5,"color":"#333"},
"encoding":{"x":{"field":"sx","type":"quantitative","axis":null},"y":{"field":"sy","type":"quantitative","axis":null},"text":{"field":"t"}}},
{"data":{"name":"titles"},"transform":[{"filter":"datum.a=='rate'"},{"calculate":"63+9.95*datum.r+6.2*(30-datum.d)","as":"sx"},{"calculate":"170+2.2*datum.r-1.467*(30-datum.d)-94*(datum.z-1)","as":"sy"}],
"mark":{"type":"text","align":"left","baseline":"middle","font":"Liberation Serif","fontSize":17.5,"fontStyle":"italic","color":"#333"},
"encoding":{"x":{"field":"sx","type":"quantitative","axis":null},"y":{"field":"sy","type":"quantitative","axis":null},"text":{"field":"t"}}},
{"data":{"name":"titles"},"transform":[{"filter":"datum.a=='sup'"},{"calculate":"63+9.95*datum.r+6.2*(30-datum.d)","as":"sx"},{"calculate":"170+2.2*datum.r-1.467*(30-datum.d)-94*(datum.z-1)","as":"sy"}],
"mark":{"type":"text","align":"left","baseline":"middle","font":"Liberation Serif","fontSize":11,"fontStyle":"italic","color":"#333"},
"encoding":{"x":{"field":"sx","type":"quantitative","axis":null},"y":{"field":"sy","type":"quantitative","axis":null},"text":{"field":"t"}}},
{"data":{"name":"titles"},"transform":[{"filter":"datum.a=='lam'"},{"calculate":"63+9.95*datum.r+6.2*(30-datum.d)","as":"sx"},{"calculate":"170+2.2*datum.r-1.467*(30-datum.d)-94*(datum.z-1)","as":"sy"}],
"mark":{"type":"text","align":"center","baseline":"middle","angle":270,"font":"Liberation Serif","fontSize":18,"fontStyle":"italic","color":"#333"},
"encoding":{"x":{"field":"sx","type":"quantitative","axis":null},"y":{"field":"sy","type":"quantitative","axis":null},"text":{"field":"t"}}},
{"data":{"name":"titles"},"transform":[{"filter":"datum.a=='crit'"},{"calculate":"63+9.95*datum.r+6.2*(30-datum.d)","as":"sx"},{"calculate":"170+2.2*datum.r-1.467*(30-datum.d)-94*(datum.z-1)","as":"sy"}],
"mark":{"type":"text","align":"center","baseline":"middle","angle":270,"font":"Liberation Serif","fontSize":12,"color":"#333"},
"encoding":{"x":{"field":"sx","type":"quantitative","axis":null},"y":{"field":"sy","type":"quantitative","axis":null},"text":{"field":"t"}}},
{"data":{"name":"titles"},"transform":[{"filter":"datum.a=='thick'"},{"calculate":"63+9.95*datum.r+6.2*(30-datum.d)","as":"sx"},{"calculate":"170+2.2*datum.r-1.467*(30-datum.d)-94*(datum.z-1)","as":"sy"}],
"mark":{"type":"text","align":"left","baseline":"middle","font":"Liberation Serif","fontSize":17.5,"color":"#333"},
"encoding":{"x":{"field":"sx","type":"quantitative","axis":null},"y":{"field":"sy","type":"quantitative","axis":null},"text":{"field":"t"}}},
{"data":{"name":"titles"},"transform":[{"filter":"datum.a=='ital'"},{"calculate":"63+9.95*datum.r+6.2*(30-datum.d)","as":"sx"},{"calculate":"170+2.2*datum.r-1.467*(30-datum.d)-94*(datum.z-1)","as":"sy"}],
"mark":{"type":"text","align":"left","baseline":"middle","font":"Liberation Serif","fontSize":17.5,"fontStyle":"italic","color":"#333"},
"encoding":{"x":{"field":"sx","type":"quantitative","axis":null},"y":{"field":"sy","type":"quantitative","axis":null},"text":{"field":"t"}}}
]}
